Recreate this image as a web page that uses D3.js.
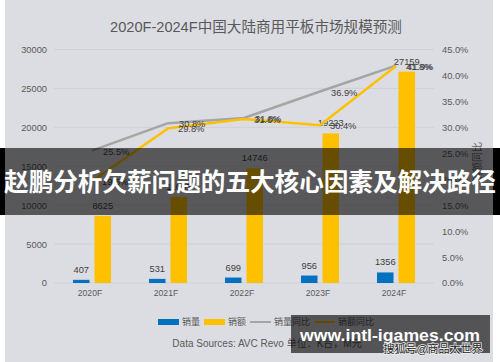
<!DOCTYPE html>
<html><head><meta charset="utf-8">
<script src="https://cdn.jsdelivr.net/npm/d3@7"></script>
<style>
html,body{margin:0;padding:0;background:#fff;}
svg{display:block;}
text{font-family:"Liberation Sans","Noto Sans CJK SC",sans-serif;}
</style></head>
<body>
<svg id="c" width="500" height="362"></svg>
<script>
const categories = ["2020F","2021F","2022F","2023F","2024F"];
const salesVolume = [407, 531, 699, 956, 1356];
const salesAmount = [8625, 11065, 14746, 19223, 27159];
const volumeYoY = [25.5, 30.8, 31.8, 36.9, 41.9];
const amountYoY = [19.6, 29.8, 31.6, 30.4, 41.8];
const leftTicks = [0, 5000, 10000, 15000, 20000, 25000, 30000];
const rightTicks = [0, 5, 10, 15, 20, 25, 30, 35, 40, 45];
const seriesNames = ["销量", "销额", "销量同比", "销额同比"];
const title = "2020F-2024F中国大陆商用平板市场规模预测";
const sourceText = "Data Sources: AVC Revo 单位：K台，M元";
const bannerText = "赵鹏分析欠薪问题的五大核心因素及解决路径";
const watermarkText = "www.intl-igames.com";
const sohuText = "搜狐号@商品大世界";

const BLUE = "#0070c0", YEL = "#ffc000", GRAY = "#a5a5a5", TXT = "#595959", LBL = "#404040";
const svg = d3.select("#c");

// chart background
svg.append("rect").attr("x",5).attr("y",0).attr("width",488).attr("height",362).attr("fill","#dcdde3");

const x = d3.scaleBand().domain(categories).range([54, 434]);
const xs = d3.scaleBand().domain(["v","a"]).range([0, x.bandwidth()]).paddingInner(0.2326).paddingOuter(0.884);
const yL = d3.scaleLinear().domain([0, 30000]).range([283, 49.5]);
const yR = d3.scaleLinear().domain([0, 45]).range([283, 49.5]);

// title
svg.append("text").attr("x",256).attr("y",32).attr("text-anchor","middle")
  .attr("font-size",14.6).attr("fill",TXT).text(title);

// gridlines
svg.append("g").selectAll("line").data(leftTicks).join("line")
  .attr("x1",54).attr("x2",434).attr("y1",d=>yL(d)).attr("y2",d=>yL(d))
  .attr("stroke","#d0d1d6").attr("stroke-width",1);

// left axis
const axL = d3.axisLeft(yL).tickValues(leftTicks).tickSize(0).tickPadding(0).tickFormat(d3.format("d"));
const gL = svg.append("g").attr("transform","translate(47,0)").call(axL);
gL.select(".domain").remove();
gL.selectAll("text").attr("font-size",9.3).attr("fill",TXT).attr("font-family",null);

// right axis
const axR = d3.axisRight(yR).tickValues(rightTicks).tickSize(0).tickPadding(0).tickFormat(d=>d.toFixed(1)+"%");
const gR = svg.append("g").attr("transform","translate(442,0)").call(axR);
gR.select(".domain").remove();
gR.selectAll("text").attr("font-size",9.3).attr("fill",TXT).attr("font-family",null);

// x axis
const axB = d3.axisBottom(x).tickSize(0).tickPadding(0);
const gB = svg.append("g").attr("transform","translate(-2,291)").call(axB);
gB.select(".domain").remove();
gB.selectAll("text").attr("font-size",8.6).attr("fill",TXT).attr("font-family",null).attr("dy","0.55em");

// right axis title (rotated)
svg.append("text").attr("transform","translate(481,162) rotate(-90)").attr("text-anchor","middle")
  .attr("font-size",10).attr("fill",TXT).text(seriesNames[3]);

// bars
const bars = svg.append("g");
bars.selectAll(".bv").data(categories).join("rect")
  .attr("x",(d)=>x(d)+xs("v")).attr("width",xs.bandwidth())
  .attr("y",(d,i)=>yL(salesVolume[i])).attr("height",(d,i)=>yL(0)-yL(salesVolume[i]))
  .attr("fill",BLUE);
bars.selectAll(".ba").data(categories).join("rect")
  .attr("x",(d)=>x(d)+xs("a")).attr("width",xs.bandwidth())
  .attr("y",(d,i)=>yL(salesAmount[i])).attr("height",(d,i)=>yL(0)-yL(salesAmount[i]))
  .attr("fill",YEL);

// bar labels
svg.append("g").selectAll("text").data(categories).join("text")
  .attr("x",d=>x(d)+xs("v")+xs.bandwidth()/2).attr("y",(d,i)=>yL(salesVolume[i])-7)
  .attr("text-anchor","middle").attr("font-size",9.3).attr("fill",LBL).text((d,i)=>salesVolume[i]);
svg.append("g").selectAll("text").data(categories).join("text")
  .attr("x",d=>x(d)+xs("a")+xs.bandwidth()/2).attr("y",(d,i)=>yL(salesAmount[i])-7)
  .attr("text-anchor","middle").attr("font-size",9.3).attr("fill",LBL).text((d,i)=>salesAmount[i]);

// lines
const cx = d => x(d) + x.bandwidth()/2;
const lineG = d3.line().x((d,i)=>cx(categories[i])).y(d=>yR(d));
svg.append("path").datum(volumeYoY).attr("d",lineG).attr("fill","none").attr("stroke",GRAY).attr("stroke-width",2.5);
svg.append("path").datum(amountYoY).attr("d",lineG).attr("fill","none").attr("stroke",YEL).attr("stroke-width",2.5);

// line labels
svg.append("g").selectAll("text").data(volumeYoY).join("text")
  .attr("x",(d,i)=>cx(categories[i])+11).attr("y",d=>yR(d)+4)
  .attr("font-size",9.3).attr("fill",LBL).text(d=>d.toFixed(1)+"%");
svg.append("g").selectAll("text").data(amountYoY).join("text")
  .attr("x",(d,i)=>cx(categories[i])+10).attr("y",d=>yR(d)+4)
  .attr("font-size",9.3).attr("fill",LBL).text(d=>d.toFixed(1)+"%");

// legend
const leg = svg.append("g");
let lx = 158;
const ly = 322;
seriesNames.forEach((n,i)=>{
  if(i<2){
    leg.append("rect").attr("x",lx).attr("y",ly-3).attr("width",21).attr("height",6).attr("fill",i===0?BLUE:YEL);
  } else {
    leg.append("line").attr("x1",lx).attr("x2",lx+21).attr("y1",ly).attr("y2",ly)
      .attr("stroke",i===2?GRAY:YEL).attr("stroke-width",2);
  }
  const t = leg.append("text").attr("x",lx+24).attr("y",ly+3.2).attr("font-size",9).attr("fill",TXT).text(n);
  lx = lx + 24 + t.node().getComputedTextLength() + 4;
});

// source
svg.append("text").attr("x",267).attr("y",346.5).attr("text-anchor","middle")
  .attr("font-size",10).attr("fill",TXT).text(sourceText);

// banner overlay
svg.append("rect").attr("x",0).attr("y",148).attr("width",5).attr("height",67).attr("fill","#000");
svg.append("rect").attr("x",493).attr("y",148).attr("width",7).attr("height",67).attr("fill","#000");
svg.append("rect").attr("x",5).attr("y",148).attr("width",488).attr("height",67).attr("fill","#000").attr("opacity",0.6);
svg.append("text").attr("x",250).attr("y",191).attr("text-anchor","middle")
  .attr("font-size",24.6).attr("font-weight","bold").attr("fill","#fff")
  .attr("font-family","'Noto Sans CJK SC',sans-serif").text(bannerText);

// watermark
svg.append("rect").attr("x",291).attr("y",315).attr("width",199).attr("height",38).attr("fill","#000").attr("opacity",0.62);
svg.append("text").attr("x",390).attr("y",341).attr("text-anchor","middle")
  .attr("font-size",17).attr("font-weight","bold").attr("fill","#fff")
  .attr("font-family","'Open Sans',sans-serif").attr("textLength",180).attr("lengthAdjust","spacingAndGlyphs")
  .text(watermarkText);
svg.append("text").attr("x",433).attr("y",353).attr("text-anchor","middle")
  .attr("font-size",11).attr("fill","#222").attr("stroke","#eee").attr("stroke-width",1.5)
  .attr("paint-order","stroke").attr("font-family","'Noto Sans CJK SC',sans-serif")
  .text(sohuText);
</script>
</body></html>
